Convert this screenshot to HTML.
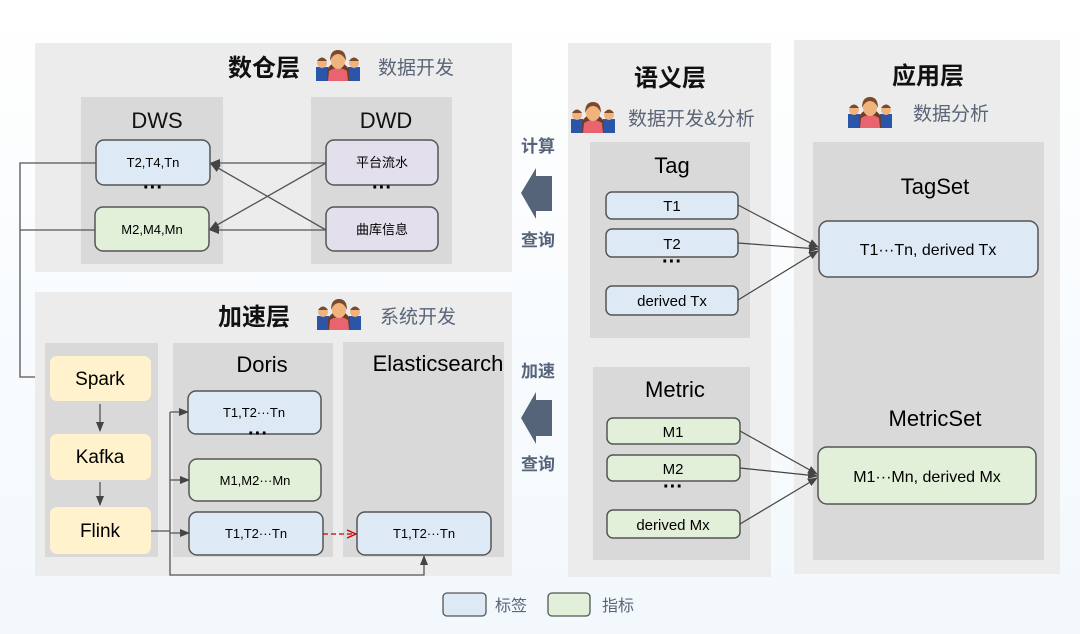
<!DOCTYPE html>
<html><head><meta charset="utf-8"><style>
html,body{margin:0;padding:0;background:#fff;}
svg{display:block;}
text{font-family:"Liberation Sans","Noto Sans CJK SC",sans-serif;}
</style></head><body>
<svg width="1080" height="634" viewBox="0 0 1080 634" xmlns="http://www.w3.org/2000/svg">
<defs>
<linearGradient id="bg" x1="0" y1="0" x2="0" y2="1"><stop offset="0" stop-color="#fff"/><stop offset="1" stop-color="#f2f8fc"/></linearGradient>
<marker id="ah" markerWidth="10" markerHeight="10" refX="9" refY="5" orient="auto" markerUnits="userSpaceOnUse"><path d="M0,1 L10,5 L0,9 z" fill="#444"/></marker>
<marker id="ar" markerWidth="10" markerHeight="10" refX="9" refY="5" orient="auto" markerUnits="userSpaceOnUse"><path d="M0,1 L9,5 L0,9" fill="none" stroke="#c00" stroke-width="1.3"/></marker>
<g id="ppl">
<rect x="0" y="18" width="12" height="14" fill="#2b55a8"/><circle cx="6" cy="14" r="5" fill="#f0b37e"/><path d="M1,12 Q6,5 11,12 Z" fill="#7a4a2a"/>
<rect x="32" y="18" width="12" height="14" fill="#2b55a8"/><circle cx="38" cy="14" r="5" fill="#f0b37e"/><path d="M33,12 Q38,5 43,12 Z" fill="#7a4a2a"/>
<path d="M11,20 Q22,6 33,20 L33,32 L11,32 Z" fill="#6b3d2a"/><path d="M13,22 Q22,16 31,22 L32,32 L12,32 Z" fill="#e8646e"/><ellipse cx="22" cy="12" rx="7" ry="8" fill="#f0b37e"/><path d="M14,12 Q14,1 22,1 Q30,1 30,12 Q27,5 22,5 Q17,5 14,12 Z" fill="#7a4a2a"/>
</g>
</defs>
<rect width="1080" height="634" fill="url(#bg)"/>

<!-- 数仓层 -->
<rect x="35" y="43" width="477" height="229" fill="#ececec"/>
<text x="228" y="76" font-size="24" font-weight="bold" fill="#111">数仓层</text>
<use href="#ppl" x="316" y="49"/>
<text x="378" y="74" font-size="19" fill="#5a6578">数据开发</text>
<rect x="81" y="97" width="142" height="167" fill="#d9d9d9"/>
<rect x="311" y="97" width="141" height="167" fill="#d9d9d9"/>
<text x="157" y="128" font-size="22" text-anchor="middle" fill="#111">DWS</text>
<text x="386" y="128" font-size="22" text-anchor="middle" fill="#111">DWD</text>
<rect x="96" y="140" width="114" height="45" rx="8" fill="#dde9f5" stroke="#555" stroke-width="1.5"/>
<text x="153" y="167" font-size="13" text-anchor="middle">T2,T4,Tn</text>
<text x="153" y="194" font-size="20" font-weight="bold" text-anchor="middle">···</text>
<rect x="95" y="207" width="114" height="44" rx="8" fill="#e2efd9" stroke="#555" stroke-width="1.5"/>
<text x="152" y="234" font-size="13" text-anchor="middle">M2,M4,Mn</text>
<rect x="326" y="140" width="112" height="45" rx="8" fill="#e4dfec" stroke="#555" stroke-width="1.5"/>
<text x="382" y="167" font-size="13" text-anchor="middle">平台流水</text>
<text x="382" y="194" font-size="20" font-weight="bold" text-anchor="middle">···</text>
<rect x="326" y="207" width="112" height="44" rx="8" fill="#e4dfec" stroke="#555" stroke-width="1.5"/>
<text x="382" y="234" font-size="13" text-anchor="middle">曲库信息</text>
<g stroke="#555" stroke-width="1.3" fill="none">
<line x1="326" y1="163" x2="211" y2="163" marker-end="url(#ah)"/>
<line x1="326" y1="230" x2="210" y2="230" marker-end="url(#ah)"/>
<line x1="326" y1="163" x2="210" y2="229" marker-end="url(#ah)"/>
<line x1="326" y1="230" x2="211" y2="164" marker-end="url(#ah)"/>
<polyline points="96,163 20,163 20,377 48,377" marker-end="url(#ah)"/>
<line x1="20" y1="230" x2="95" y2="230"/>
</g>

<!-- 加速层 -->
<rect x="35" y="292" width="477" height="284" fill="#ececec"/>
<text x="218" y="325" font-size="24" font-weight="bold" fill="#111">加速层</text>
<use href="#ppl" x="317" y="298"/>
<text x="380" y="323" font-size="19" fill="#5a6578">系统开发</text>
<rect x="45" y="343" width="113" height="214" fill="#d9d9d9"/>
<rect x="173" y="343" width="160" height="214" fill="#d9d9d9"/>
<rect x="343" y="342" width="161" height="215" fill="#d9d9d9"/>
<rect x="50" y="356" width="101" height="45" rx="7" fill="#fff2cc"/>
<text x="100" y="385" font-size="19" text-anchor="middle">Spark</text>
<rect x="50" y="434" width="101" height="46" rx="7" fill="#fff2cc"/>
<text x="100" y="463" font-size="19" text-anchor="middle">Kafka</text>
<rect x="50" y="507" width="101" height="47" rx="7" fill="#fff2cc"/>
<text x="100" y="537" font-size="19" text-anchor="middle">Flink</text>
<text x="262" y="372" font-size="22" text-anchor="middle">Doris</text>
<text x="438" y="371" font-size="22" text-anchor="middle">Elasticsearch</text>
<rect x="188" y="391" width="133" height="43" rx="8" fill="#dde9f5" stroke="#555" stroke-width="1.5"/>
<text x="254" y="417" font-size="13" text-anchor="middle">T1,T2···Tn</text>
<text x="258" y="440" font-size="20" font-weight="bold" text-anchor="middle">···</text>
<rect x="189" y="459" width="132" height="42" rx="8" fill="#e2efd9" stroke="#555" stroke-width="1.5"/>
<text x="255" y="485" font-size="13" text-anchor="middle">M1,M2···Mn</text>
<rect x="189" y="512" width="134" height="43" rx="8" fill="#dde9f5" stroke="#555" stroke-width="1.5"/>
<text x="256" y="538" font-size="13" text-anchor="middle">T1,T2···Tn</text>
<rect x="357" y="512" width="134" height="43" rx="8" fill="#dde9f5" stroke="#555" stroke-width="1.5"/>
<text x="424" y="538" font-size="13" text-anchor="middle">T1,T2···Tn</text>
<g stroke="#555" stroke-width="1.3" fill="none">
<line x1="100" y1="404" x2="100" y2="431" marker-end="url(#ah)"/>
<line x1="100" y1="482" x2="100" y2="505" marker-end="url(#ah)"/>
<polyline points="151,531 170,531"/>
<polyline points="170,412 170,575 424,575 424,556" marker-end="url(#ah)"/>
<line x1="170" y1="412" x2="188" y2="412" marker-end="url(#ah)"/>
<line x1="170" y1="480" x2="189" y2="480" marker-end="url(#ah)"/>
<line x1="170" y1="533" x2="189" y2="533" marker-end="url(#ah)"/>
</g>
<line x1="323" y1="534" x2="356" y2="534" stroke="#c00" stroke-width="1.3" stroke-dasharray="5,3" marker-end="url(#ar)"/>

<!-- middle arrows -->
<text x="538" y="152" font-size="17" font-weight="bold" fill="#56647a" text-anchor="middle">计算</text>
<path d="M521,193 L536,168 L536,176 L552,176 L552,211 L536,211 L536,219 Z" fill="#56647a"/>
<text x="538" y="246" font-size="17" font-weight="bold" fill="#56647a" text-anchor="middle">查询</text>
<text x="538" y="377" font-size="17" font-weight="bold" fill="#56647a" text-anchor="middle">加速</text>
<path d="M521,418 L536,392 L536,400 L552,400 L552,436 L536,436 L536,444 Z" fill="#56647a"/>
<text x="538" y="470" font-size="17" font-weight="bold" fill="#56647a" text-anchor="middle">查询</text>

<!-- 语义层 -->
<rect x="568" y="43" width="203" height="534" fill="#ececec"/>
<text x="670" y="86" font-size="24" font-weight="bold" text-anchor="middle" fill="#111">语义层</text>
<use href="#ppl" x="571" y="101"/>
<text x="628" y="125" font-size="19" fill="#5a6578">数据开发&amp;分析</text>
<rect x="590" y="142" width="160" height="196" fill="#d9d9d9"/>
<text x="672" y="173" font-size="22" text-anchor="middle">Tag</text>
<rect x="606" y="192" width="132" height="27" rx="6" fill="#dde9f5" stroke="#555" stroke-width="1.5"/>
<text x="672" y="211" font-size="15" text-anchor="middle">T1</text>
<rect x="606" y="229" width="132" height="28" rx="6" fill="#dde9f5" stroke="#555" stroke-width="1.5"/>
<text x="672" y="249" font-size="15" text-anchor="middle">T2</text>
<text x="672" y="268" font-size="20" font-weight="bold" text-anchor="middle">···</text>
<rect x="606" y="286" width="132" height="29" rx="6" fill="#dde9f5" stroke="#555" stroke-width="1.5"/>
<text x="672" y="306" font-size="15" text-anchor="middle">derived Tx</text>
<rect x="593" y="367" width="157" height="193" fill="#d9d9d9"/>
<text x="675" y="397" font-size="22" text-anchor="middle">Metric</text>
<rect x="607" y="418" width="133" height="26" rx="6" fill="#e2efd9" stroke="#555" stroke-width="1.5"/>
<text x="673" y="437" font-size="15" text-anchor="middle">M1</text>
<rect x="607" y="455" width="133" height="26" rx="6" fill="#e2efd9" stroke="#555" stroke-width="1.5"/>
<text x="673" y="474" font-size="15" text-anchor="middle">M2</text>
<text x="673" y="493" font-size="20" font-weight="bold" text-anchor="middle">···</text>
<rect x="607" y="510" width="133" height="28" rx="6" fill="#e2efd9" stroke="#555" stroke-width="1.5"/>
<text x="673" y="530" font-size="15" text-anchor="middle">derived Mx</text>

<!-- 应用层 -->
<rect x="794" y="40" width="266" height="534" fill="#ececec"/>
<text x="928" y="84" font-size="24" font-weight="bold" text-anchor="middle" fill="#111">应用层</text>
<use href="#ppl" x="848" y="96"/>
<text x="913" y="120" font-size="19" fill="#5a6578">数据分析</text>
<rect x="813" y="142" width="231" height="418" fill="#d9d9d9"/>
<text x="935" y="194" font-size="22" text-anchor="middle">TagSet</text>
<rect x="819" y="221" width="219" height="56" rx="9" fill="#dde9f5" stroke="#555" stroke-width="1.5"/>
<text x="928" y="255" font-size="16" text-anchor="middle">T1···Tn, derived Tx</text>
<text x="935" y="426" font-size="22" text-anchor="middle">MetricSet</text>
<rect x="818" y="447" width="218" height="57" rx="9" fill="#e2efd9" stroke="#555" stroke-width="1.5"/>
<text x="927" y="482" font-size="16" text-anchor="middle">M1···Mn, derived Mx</text>
<g stroke="#444" stroke-width="1.2">
<line x1="738" y1="205" x2="818" y2="247" marker-end="url(#ah)"/>
<line x1="738" y1="243" x2="818" y2="249" marker-end="url(#ah)"/>
<line x1="738" y1="300" x2="818" y2="251" marker-end="url(#ah)"/>
<line x1="740" y1="431" x2="817" y2="474" marker-end="url(#ah)"/>
<line x1="740" y1="468" x2="817" y2="476" marker-end="url(#ah)"/>
<line x1="740" y1="524" x2="817" y2="478" marker-end="url(#ah)"/>
</g>

<!-- legend -->
<rect x="443" y="593" width="43" height="23" rx="4" fill="#dde9f5" stroke="#555" stroke-width="1.3"/>
<text x="495" y="611" font-size="16" fill="#5a6578">标签</text>
<rect x="548" y="593" width="42" height="23" rx="4" fill="#e2efd9" stroke="#555" stroke-width="1.3"/>
<text x="602" y="611" font-size="16" fill="#5a6578">指标</text>
</svg>
</body></html>
